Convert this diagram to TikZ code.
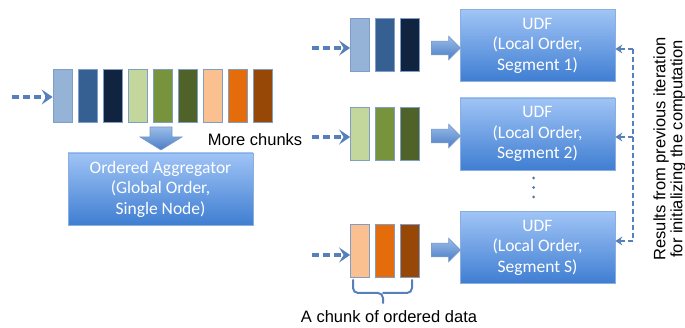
\documentclass[tikz,border=0pt]{standalone}
\usepackage{fontspec}
\setmainfont{Liberation Sans}
\newfontfamily\boxfont{Carlito}
\usetikzlibrary{arrows.meta,shapes.arrows}

\definecolor{cba}{HTML}{95B3D7}
\definecolor{cbb}{HTML}{366092}
\definecolor{cbc}{HTML}{10243F}
\definecolor{cga}{HTML}{C3D69B}
\definecolor{cgb}{HTML}{77933C}
\definecolor{cgc}{HTML}{4F6228}
\definecolor{coa}{HTML}{FAC090}
\definecolor{cob}{HTML}{E46C0A}
\definecolor{coc}{HTML}{974806}
\definecolor{chunkedge}{HTML}{7E9DC8}
\definecolor{boxtop}{HTML}{A0C4F6}
\definecolor{boxbot}{HTML}{3F7ED2}
\definecolor{boxedge}{HTML}{8AAEDD}
\definecolor{arrblue}{HTML}{5580BC}
\definecolor{arrtop}{HTML}{9ABDEA}
\definecolor{arrbot}{HTML}{4A7DC4}
\definecolor{dotcol}{HTML}{5478A6}

\begin{document}
\begin{tikzpicture}[x=1pt,y=-1pt,
  chunk/.style={draw=chunkedge, line width=0.8pt, minimum width=19pt, minimum height=53pt, inner sep=0pt},
  procbox/.style={draw=boxedge, line width=0.8pt, top color=boxtop, bottom color=boxbot,
     minimum width=155pt, minimum height=72pt, align=center, text=white, inner sep=0pt,
     font=\boxfont\fontsize{17.5}{20.5}\selectfont},
  feed/.style={draw=arrblue, line width=3.6pt, dash pattern=on 7pt off 4pt,
     -{Stealth[length=11pt,width=15pt,inset=4.5pt]}},
  fbline/.style={draw=arrblue, line width=2pt, dash pattern=on 5pt off 3pt},
  fbarrow/.style={draw=arrblue, line width=2pt, dash pattern=on 5pt off 3pt,
     -{Stealth[length=7pt,width=9pt,inset=2.5pt]}},
  blockarrow/.style={single arrow, draw=arrblue!80, line width=0.6pt, top color=arrtop, bottom color=arrbot,
     inner xsep=0pt, inner ysep=6.5pt, single arrow head extend=5pt, minimum height=29pt},
  txt/.style={font=\fontsize{16.5}{19}\selectfont, inner sep=0pt},
  bracecol/.style={draw=arrblue, line width=2pt, line cap=round}
]
\useasboundingbox (0,0) rectangle (685,328);

% left long chunk
\foreach \c [count=\i from 0] in {cba,cbb,cbc,cga,cgb,cgc,coa,cob,coc}{
  \node[chunk, fill=\c] (L\i) at (62.5+25*\i,95.5) {};
}
\coordinate (lin) at (12,97);
\draw[feed] (lin) -- (L0.west |- lin);

% down arrow
\draw[draw=arrblue!80, line width=0.6pt, top color=arrtop, bottom color=arrbot]
  (150,127) -- (172,127) -- (172,137) -- (182,137) -- (161,150) -- (140,137) -- (150,137) -- cycle;

\node[procbox, minimum width=185pt] (agg) at (160.5,189)
  {Ordered Aggregator\\(Global Order,\\Single Node)};

% right chunk rows
\foreach \c [count=\i from 0] in {cba,cbb,cbc}{
  \node[chunk, fill=\c] (A\i) at (360+25*\i,44.5) {};
}
\foreach \c [count=\i from 0] in {cga,cgb,cgc}{
  \node[chunk, fill=\c] (B\i) at (360+25*\i,134) {};
}
\foreach \c [count=\i from 0] in {coa,cob,coc}{
  \node[chunk, fill=\c] (C\i) at (360+25*\i,251) {};
}

\coordinate (ain) at (312,48);
\coordinate (bin) at (312,137);
\coordinate (cin) at (312,255);
\draw[feed] (ain) -- (A0.west |- ain);
\draw[feed] (bin) -- (B0.west |- bin);
\draw[feed] (cin) -- (C0.west |- cin);

\node[procbox] (u1) at (537.5,45.5) {UDF\\(Local Order,\\Segment 1)};
\node[procbox] (u2) at (537.5,134) {UDF\\(Local Order,\\Segment 2)};
\node[procbox] (u3) at (537.5,247.5) {UDF\\(Local Order,\\Segment S)};

\node[blockarrow] (ra) at (442.5,48) {};
\node[blockarrow] (rb) at (442.5,136) {};
\node[blockarrow] (rc) at (442.5,250) {};

% dots
\fill[dotcol] (533.5,178) circle (1.5pt);
\fill[dotcol] (533.5,187.5) circle (1.5pt);
\fill[dotcol] (533.5,197) circle (1.5pt);

% feedback
\coordinate (f1) at (633,49);
\coordinate (f2) at (633,137);
\coordinate (f3) at (633,241);
\draw[fbline] (f1) -- (f3);
\draw[fbarrow] (f1) -- (u1.east |- f1);
\draw[fbarrow] (f2) -- (u2.east |- f2);
\draw[fbarrow] (f3) -- (u3.east |- f3);

\node[txt, rotate=90, align=center, font=\fontsize{16.5}{17}\selectfont] (fbtext) at (669.5,149)
  {Results from previous iteration\\for initializing the computation};

\node[txt] (more) at (255,140) {More chunks};

% brace
\draw[bracecol, rounded corners=5pt] (353,280) -- (353,293) -- (383,293) -- (383,303);
\draw[bracecol, rounded corners=5pt] (412,280) -- (412,293) -- (383,293);
\node[txt] (chunklabel) at (389,317) {A chunk of ordered data};
\end{tikzpicture}
\end{document}
